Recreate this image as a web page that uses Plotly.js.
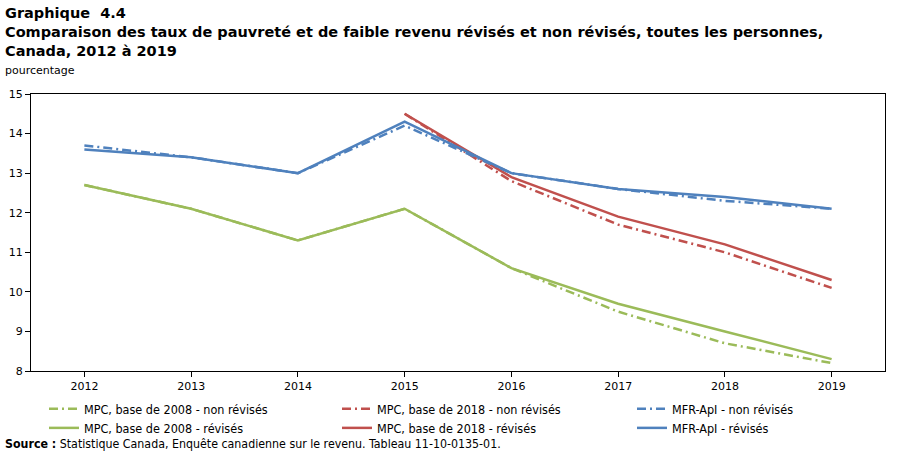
<!DOCTYPE html>
<html>
<head>
<meta charset="utf-8">
<script src="https://cdn.plot.ly/plotly-3.0.1.min.js"></script>
<style>html,body{margin:0;padding:0;background:#fff;}#chart{width:900px;height:455px;}</style>
</head>
<body>
<div id="chart"></div>
<script>
const years = ["2012","2013","2014","2015","2016","2017","2018","2019"];
const mpc2008NonRevises = [12.7, 12.1, 11.3, 12.1, 10.6, 9.5, 8.7, 8.2];
const mpc2018NonRevises = [null, null, null, 14.5, 12.8, 11.7, 11.0, 10.1];
const mfrNonRevises     = [13.7, 13.4, 13.0, 14.2, 13.0, 12.6, 12.3, 12.1];
const mpc2008Revises    = [12.7, 12.1, 11.3, 12.1, 10.6, 9.7, 9.0, 8.3];
const mpc2018Revises    = [null, null, null, 14.5, 12.9, 11.9, 11.2, 10.3];
const mfrRevises        = [13.6, 13.4, 13.0, 14.3, 13.0, 12.6, 12.4, 12.1];
const yTicks = [8, 9, 10, 11, 12, 13, 14, 15];

const GREEN = "#9BBB59", RED = "#C0504D", BLUE = "#4F81BD";
const DASHDOT = "9px,4px,2px,4px";
const W = 2.5;

const M = {l: 31, r: 15, t: 94, b: 84};
const PW = 900 - M.l - M.r, PH = 455 - M.t - M.b;
const px2x = px => (px - M.l) / PW;
const py2y = py => (455 - M.b - py) / PH;

function tr(name, y, color, dash, legend) {
  return {type: "scatter", mode: "lines", x: years, y: y, name: name, legend: legend,
    line: {color: color, width: W, dash: dash}, connectgaps: false};
}

const data = [
  tr("MPC, base de 2008 - non révisés", mpc2008NonRevises, GREEN, DASHDOT, "legend"),
  tr("MPC, base de 2008 - révisés", mpc2008Revises, GREEN, "solid", "legend"),
  tr("MPC, base de 2018 - non révisés", mpc2018NonRevises, RED, DASHDOT, "legend2"),
  tr("MPC, base de 2018 - révisés", mpc2018Revises, RED, "solid", "legend2"),
  tr("MFR-ApI - non révisés", mfrNonRevises, BLUE, DASHDOT, "legend3"),
  tr("MFR-ApI - révisés", mfrRevises, BLUE, "solid", "legend3")
];

const legFont = {family: "DejaVu Sans Condensed, DejaVu Sans, sans-serif", size: 12.5, color: "#000"};
function leg(xpx) {
  return {orientation: "v", xref: "container", x: xpx/900, xanchor: "left",
    yref: "container", y: 1 - 394/455, yanchor: "top", itemwidth: 30,
    font: legFont, bgcolor: "rgba(0,0,0,0)", traceorder: "normal", tracegroupgap: 0};
}

const layout = {
  width: 900, height: 455,
  margin: {l: M.l, r: M.r, t: M.t, b: M.b, autoexpand: false},
  paper_bgcolor: "#fff", plot_bgcolor: "#fff",
  font: {family: "DejaVu Sans, Verdana, sans-serif", size: 11, color: "#000"},
  xaxis: {
    type: "category", range: [-0.5, 7.5],
    showline: true, linecolor: "#000", linewidth: 1, mirror: true,
    ticks: "outside", ticklen: 5, tickcolor: "#000",
    showgrid: false, zeroline: false, fixedrange: true, automargin: false,
    tickfont: {family: "DejaVu Sans, Verdana, sans-serif", size: 11, color: "#000"}
  },
  yaxis: {
    range: [8, 15], tickvals: yTicks, ticktext: yTicks.map(String),
    showline: true, linecolor: "#000", linewidth: 1, mirror: true,
    ticks: "outside", ticklen: 5, tickcolor: "#000",
    showgrid: false, zeroline: false, fixedrange: true, automargin: false,
    tickfont: {family: "DejaVu Sans, Verdana, sans-serif", size: 11, color: "#000"}
  },
  showlegend: true,
  legend: leg(44),
  legend2: leg(337),
  legend3: leg(632),
  annotations: [
    {text: "<b>Graphique  4.4</b><br><b>Comparaison des taux de pauvreté et de faible revenu révisés et non révisés, toutes les personnes,</b><br><b>Canada, 2012 à 2019</b>",
     xref: "paper", yref: "paper", x: px2x(3), y: py2y(3),
     xanchor: "left", yanchor: "top", align: "left", showarrow: false,
     font: {family: "DejaVu Sans, Verdana, sans-serif", size: 14.5, color: "#000"}},
    {text: "pourcentage", xref: "paper", yref: "paper", x: px2x(3), y: py2y(71),
     xanchor: "left", yanchor: "middle", showarrow: false,
     font: {family: "DejaVu Sans, Verdana, sans-serif", size: 11, color: "#000"}},
    {text: "<b>Source :</b> Statistique Canada, Enquête canadienne sur le revenu. Tableau 11-10-0135-01.",
     xref: "paper", yref: "paper", x: px2x(3), y: py2y(444),
     xanchor: "left", yanchor: "middle", showarrow: false,
     font: {family: "DejaVu Sans Condensed, DejaVu Sans, sans-serif", size: 12.3, color: "#000"}}
  ]
};

Plotly.newPlot("chart", data, layout, {displayModeBar: false, staticPlot: true});
</script>
</body>
</html>
